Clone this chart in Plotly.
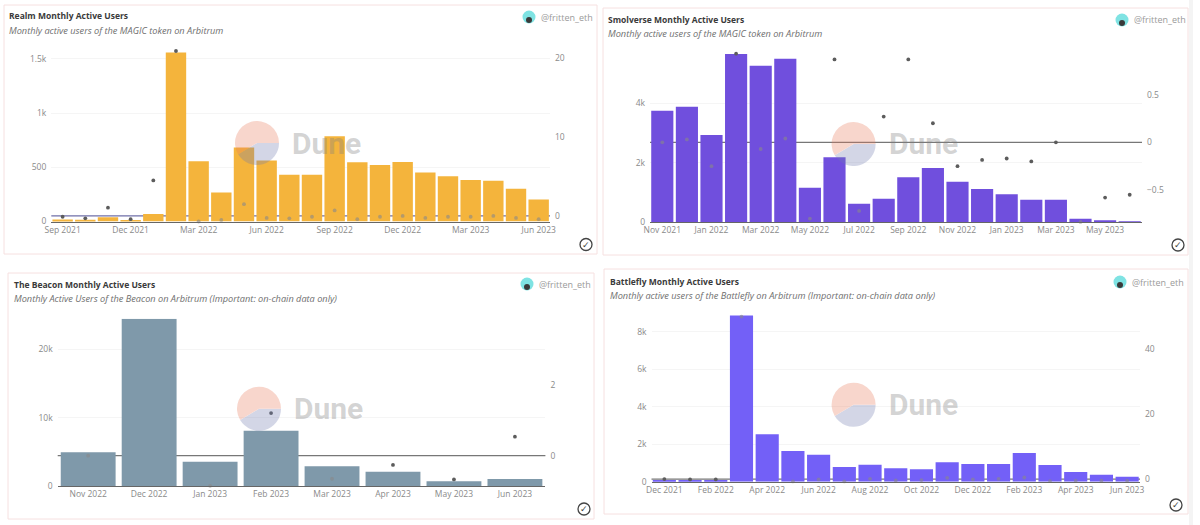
"""Four Dune monthly active users panels on one page"""

import plotly.graph_objects as go

WIDTH: int = 1200
HEIGHT: int = 525
FONT: str = "Open Sans"

# Realm
realm_months: list[str] = [
    "Sep 2021", "Oct 2021", "Nov 2021", "Dec 2021", "Jan 2022", "Feb 2022",
    "Mar 2022", "Apr 2022", "May 2022", "Jun 2022", "Jul 2022", "Aug 2022",
    "Sep 2022", "Oct 2022", "Nov 2022", "Dec 2022", "Jan 2023", "Feb 2023",
    "Mar 2023", "Apr 2023", "May 2023", "Jun 2023",
]
realm_users: list[float] = [
    18, 15, 40, 12, 70, 1560, 555, 268, 682, 562, 432, 432,
    787, 546, 522, 550, 451, 417, 382, 376, 302, 204,
]
realm_growth: list[float] = [
    -0.1, -0.3, 1.05, -0.4, 4.5, 20.9, -0.7, -0.5, 1.5, -0.25, -0.3,
    -0.1, 0.7, -0.4, -0.1, 0, -0.25, -0.1, -0.1, 0, -0.25, -0.4,
]
realm_ticks: list[str] = [
    "Sep 2021", "Dec 2021", "Mar 2022", "Jun 2022", "Sep 2022", "Dec 2022",
    "Mar 2023", "Jun 2023",
]

# Smolverse
smol_months: list[str] = [
    "Nov 2021", "Dec 2021", "Jan 2022", "Feb 2022", "Mar 2022", "Apr 2022",
    "May 2022", "Jun 2022", "Jul 2022", "Aug 2022", "Sep 2022", "Oct 2022",
    "Nov 2022", "Dec 2022", "Jan 2023", "Feb 2023", "Mar 2023", "Apr 2023",
    "May 2023", "Jun 2023",
]
smol_users: list[float] = [
    3753, 3888, 2933, 5663, 5270, 5506, 1157, 2180, 618, 787,
    1506, 1820, 1360, 1112, 933, 753, 753, 112, 45, 10,
]
smol_growth: list[float] = [
    0, 0.03, -0.25, 0.93, -0.07, 0.04, -0.8, 0.87, -0.72, 0.27,
    0.87, 0.2, -0.25, -0.185, -0.17, -0.2, 0, -0.835, -0.58, -0.55,
]
smol_ticks: list[str] = [
    "Nov 2021", "Jan 2022", "Mar 2022", "May 2022", "Jul 2022", "Sep 2022",
    "Nov 2022", "Jan 2023", "Mar 2023", "May 2023",
]

# The Beacon
beacon_months: list[str] = [
    "Nov 2022", "Dec 2022", "Jan 2023", "Feb 2023", "Mar 2023", "Apr 2023",
    "May 2023", "Jun 2023",
]
beacon_users: list[float] = [4926, 24490, 3560, 8100, 2880, 2100, 680, 1020]
beacon_growth: list[float] = [0, 3.88, -0.85, 1.2, -0.65, -0.26, -0.67, 0.535]

# Battlefly
fly_months: list[str] = [
    "Dec 2021", "Jan 2022", "Feb 2022", "Mar 2022", "Apr 2022", "May 2022",
    "Jun 2022", "Jul 2022", "Aug 2022", "Sep 2022", "Oct 2022", "Nov 2022",
    "Dec 2022", "Jan 2023", "Feb 2023", "Mar 2023", "Apr 2023", "May 2023",
    "Jun 2023",
]
fly_users: list[float] = [
    70, 50, 50, 8870, 2524, 1636, 1440, 782, 907, 711, 658, 1031,
    942, 942, 1529, 889, 516, 373, 267,
]
fly_growth: list[float] = [
    0, -0.1, -0.1, 50, -0.9, -0.7, -0.1, -0.7, 0.1, -0.4, -0.3, 0.4,
    -0.1, 0.1, 0.5, -0.6, -0.5, -0.5, -0.5,
]
fly_ticks: list[str] = [
    "Dec 2021", "Feb 2022", "Apr 2022", "Jun 2022", "Aug 2022", "Oct 2022",
    "Dec 2022", "Feb 2023", "Apr 2023", "Jun 2023",
]

panels: list[dict] = [
    {
        "title": "Realm Monthly Active Users",
        "subtitle": "Monthly active users of the MAGIC token on Arbitrum",
        "months": realm_months, "users": realm_users, "growth": realm_growth,
        "ticks": realm_ticks, "color": "#f4b43c", "line": "#6f6fa8",
        "y_range": [0, 1573], "y_ticks": [0, 500, 1000, 1500],
        "y_text": ["0", "500", "1k", "1.5k"],
        "y2_range": [-0.7, 20.9], "y2_ticks": [0, 10, 20],
        "card": (4, 5, 597, 254), "plot": (51.3, 51, 550, 221.5),
        "head": (7, 16), "avatar": (529, 17), "logo": (257, 143),
        "check": (586, 244.5),
    },
    {
        "title": "Smolverse Monthly Active Users",
        "subtitle": "Monthly active users of the MAGIC token on Arbitrum",
        "months": smol_months, "users": smol_users, "growth": smol_growth,
        "ticks": smol_ticks, "color": "#704fdd", "line": "#777777",
        "y_range": [0, 5690], "y_ticks": [0, 2000, 4000],
        "y_text": ["0", "2k", "4k"],
        "y2_range": [-0.836, 0.934], "y2_ticks": [-0.5, 0, 0.5],
        "card": (603, 8, 1188, 255), "plot": (650, 53.3, 1142, 222),
        "head": (606, 19), "avatar": (1122, 20), "logo": (853.6, 144),
        "check": (1178, 245),
    },
    {
        "title": "The Beacon Monthly Active Users",
        "subtitle": "Monthly Active Users of the Beacon on Arbitrum (Important: on-chain data only)",
        "months": beacon_months, "users": beacon_users, "growth": beacon_growth,
        "ticks": beacon_months, "color": "#7f99aa", "line": "#777777",
        "y_range": [0, 24494], "y_ticks": [0, 10000, 20000],
        "y_text": ["0", "10k", "20k"],
        "y2_range": [-0.854, 3.86], "y2_ticks": [0, 2],
        "card": (8, 273, 594, 519), "plot": (57.7, 318.7, 545.4, 486),
        "head": (12, 284), "avatar": (527, 284), "logo": (259, 408.7),
        "check": (584, 509),
    },
    {
        "title": "Battlefly Monthly Active Users",
        "subtitle": "Monthly active users of the Battlefly on Arbitrum (Important: on-chain data only)",
        "months": fly_months, "users": fly_users, "growth": fly_growth,
        "ticks": fly_ticks, "color": "#7360f7", "line": "#777777",
        "y_range": [0, 8890], "y_ticks": [0, 2000, 4000, 6000, 8000],
        "y_text": ["0", "2k", "4k", "6k", "8k"],
        "y2_range": [-0.8, 50.5], "y2_ticks": [0, 20, 40],
        "card": (604, 269, 1188, 514), "plot": (651.5, 315, 1140, 481.7),
        "head": (608, 281), "avatar": (1120, 282), "logo": (853.6, 404.7),
        "check": (1176, 505),
    },
]


def px_x(x: float) -> float:
    """Pixel to paper, horizontal"""
    return x / WIDTH


def px_y(y: float) -> float:
    """Pixel to paper, vertical"""
    return 1 - y / HEIGHT


def fraction(value: float, axis_range: list[float]) -> float:
    """Height of a value inside its axis"""
    return (value - axis_range[0]) / (axis_range[1] - axis_range[0])


def circle(cx: float, cy: float, r: float, **kwargs) -> dict:
    """Circle shape in page pixels"""
    return dict(
        type="circle", xref="paper", yref="paper",
        x0=px_x(cx - r), x1=px_x(cx + r), y0=px_y(cy + r), y1=px_y(cy - r),
        **kwargs,
    )


def label(x: float, y: float, text: str, size: float, color: str, **kwargs) -> dict:
    """Annotation in page pixels"""
    return dict(
        x=px_x(x), y=px_y(y), xref="paper", yref="paper", text=text,
        showarrow=False, xanchor=kwargs.pop("xanchor", "left"), yanchor="middle",
        font=dict(family=kwargs.pop("family", FONT), size=size, color=color),
        **kwargs,
    )


fig = go.Figure()
shapes: list[dict] = []
annotations: list[dict] = []
layout_axes: dict = {}
tick_font: dict = dict(family=FONT, size=8.5, color="#8a8a8a")

# thin grey strip along the right edge of the page
shapes.append(
    dict(
        type="rect", xref="paper", yref="paper", layer="below",
        x0=px_x(1189), x1=px_x(1193), y0=0, y1=1,
        fillcolor="#f4f4f4", line=dict(width=0),
    )
)

for i, panel in enumerate(panels):
    n = "" if i == 0 else str(i + 1)
    y_id = "" if i == 0 else str(2 * i + 1)
    y2_id = str(2 * i + 2)
    left, top, right, bottom = panel["plot"]

    # a dot on top of a bar shows up washed out
    dot_colors: list[str] = [
        "rgba(136,136,136,0.6)"
        if fraction(g, panel["y2_range"]) < fraction(u, panel["y_range"])
        else "#5c5c5c"
        for u, g in zip(panel["users"], panel["growth"])
    ]

    fig.add_trace(
        go.Bar(
            x=panel["months"], y=panel["users"], xaxis=f"x{n}", yaxis=f"y{y_id}",
            marker=dict(color=panel["color"], line=dict(width=0)), showlegend=False,
        )
    )
    fig.add_trace(
        go.Scatter(
            x=panel["months"], y=panel["growth"], xaxis=f"x{n}", yaxis=f"y{y2_id}",
            mode="markers", marker=dict(color=dot_colors, size=3.8),
            cliponaxis=False, showlegend=False,
        )
    )

    # automargin off, the template default would shrink the whole page
    layout_axes[f"xaxis{n}"] = dict(
        domain=[px_x(left), px_x(right)], anchor=f"y{y_id}", type="category",
        categoryorder="array", categoryarray=panel["months"],
        range=[-0.5, len(panel["months"]) - 0.5], automargin=False,
        tickmode="array", tickvals=panel["ticks"], ticktext=panel["ticks"],
        showgrid=False, showline=True, linecolor="#666666", linewidth=1.2, ticks="",
        tickfont=tick_font,
    )
    layout_axes[f"yaxis{y_id}"] = dict(
        domain=[px_y(bottom), px_y(top)], anchor=f"x{n}", range=panel["y_range"],
        automargin=False,
        tickmode="array", tickvals=panel["y_ticks"], ticktext=panel["y_text"],
        gridcolor="#f5f5f5", zeroline=False, ticks="", ticklabelstandoff=4,
        tickfont=tick_font,
    )
    layout_axes[f"yaxis{y2_id}"] = dict(
        domain=[px_y(bottom), px_y(top)], anchor=f"x{n}", overlaying=f"y{y_id}",
        side="right", range=panel["y2_range"], tickmode="array", automargin=False,
        tickvals=panel["y2_ticks"], showgrid=False, zeroline=False, ticks="",
        ticklabelstandoff=4, tickfont=tick_font,
    )

    # card behind everything
    x0, y0, x1, y1 = panel["card"]
    shapes.append(
        dict(
            type="rect", xref="paper", yref="paper", layer="below",
            x0=px_x(x0), x1=px_x(x1), y0=px_y(y1), y1=px_y(y0),
            fillcolor="white", line=dict(color="#f6e0e0", width=1),
        )
    )
    # zero line of the right axis, under the bars
    shapes.append(
        dict(
            type="line", xref=f"x{n} domain", yref=f"y{y2_id}", layer="below",
            x0=0, x1=1, y0=0, y1=0, line=dict(color=panel["line"], width=1.2),
        )
    )

    # header
    head_x, head_y = panel["head"]
    annotations.append(label(head_x, head_y, f"<b>{panel['title']}</b>", 8.5, "#3a3a3a"))
    annotations.append(label(head_x, head_y + 14.5, f"<i>{panel['subtitle']}</i>", 9.2, "#6e6e6e"))

    # avatar and handle
    av_x, av_y = panel["avatar"]
    shapes.append(circle(av_x, av_y, 6.5, fillcolor="#7fe3e3", line=dict(width=0)))
    shapes.append(circle(av_x, av_y + 3, 3, fillcolor="#3a3a3a", line=dict(width=0)))
    annotations.append(label(av_x + 10, av_y, "@fritten_eth", 9, "#9a9a9a"))

    # check icon
    ch_x, ch_y = panel["check"]
    shapes.append(circle(ch_x, ch_y, 6, fillcolor="white", line=dict(color="#444444", width=1.3)))
    annotations.append(label(ch_x, ch_y, "✓", 9, "#444444", xanchor="center", family="DejaVu Sans"))

    # Dune watermark
    lo_x, lo_y = panel["logo"]
    r = 22
    fig.add_trace(
        go.Pie(
            values=[41.4, 58.6], sort=False, direction="clockwise", rotation=90,
            marker=dict(colors=["#6f7bb0", "#e9795a"], line=dict(width=0)),
            domain=dict(
                x=[px_x(lo_x - r), px_x(lo_x + r)], y=[px_y(lo_y + r), px_y(lo_y - r)]
            ),
            opacity=0.3, textinfo="none", hoverinfo="skip", showlegend=False,
        )
    )
    annotations.append(
        label(lo_x + 33, lo_y, "<b>Dune</b>", 30, "rgba(130,130,130,0.35)", family="Roboto")
    )

fig.update_layout(
    width=WIDTH,
    height=HEIGHT,
    margin=dict(l=0, r=0, t=0, b=0),
    paper_bgcolor="white",
    plot_bgcolor="rgba(0,0,0,0)",
    bargap=0.1,
    showlegend=False,
    shapes=shapes,
    annotations=annotations,
    **layout_axes,
)

fig.write_html(
    "out.html",
    config={"displayModeBar": False},
    post_script=(
        "document.body.style.margin = '0';"
        "document.body.style.overflow = 'hidden';"
        "document.documentElement.style.overflow = 'hidden';"
    ),
)
